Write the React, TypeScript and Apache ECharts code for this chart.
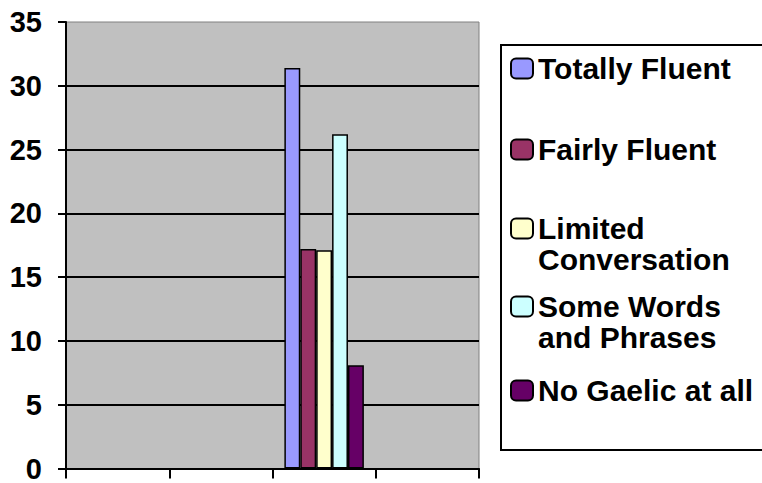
import React, { useEffect, useRef } from "react";
import * as echarts from "echarts";

const categories = ["Group 1", "Group 2", "Group 3", "Group 4"];
const seriesNames = [
  "Totally Fluent",
  "Fairly Fluent",
  "Limited Conversation",
  "Some Words and Phrases",
  "No Gaelic at all",
];
const legendLabels = [
  "Totally Fluent",
  "Fairly Fluent",
  "Limited\nConversation",
  "Some Words\nand Phrases",
  "No Gaelic at all",
];
const seriesValues: (number | null)[][] = [
  [null, null, 31.4, null],
  [null, null, 17.2, null],
  [null, null, 17.1, null],
  [null, null, 26.2, null],
  [null, null, 8.1, null],
];
const seriesColors = ["#9999FF", "#993366", "#FFFFCC", "#CCFFFF", "#660066"];
const yTicks = { min: 0, max: 35, interval: 5 };

const legendIconCenters = [69, 150, 230, 308, 391];

export default function App() {
  const ref = useRef<HTMLDivElement>(null);
  useEffect(() => {
    if (!ref.current) return;
    const chart = echarts.init(ref.current, null, { renderer: "svg" });
    const font = "Arial";
    const legends = seriesNames.map((name, i) => {
      const twoLine = legendLabels[i].includes("\n");
      return {
        orient: "vertical",
        left: 510,
        top: twoLine ? legendIconCenters[i] - 48 : legendIconCenters[i] - 16,
        padding: 0,
        itemWidth: 22,
        itemHeight: 20,
        selectedMode: false,
        data: [name],
        formatter: (n: string) => {
          const lbl = legendLabels[seriesNames.indexOf(n)];
          return lbl.includes("\n") ? "\n" + lbl : lbl;
        },
        textStyle: {
          fontFamily: font,
          fontWeight: "bold",
          fontSize: 30,
          lineHeight: 31,
          color: "#000",
        },
      };
    });
    chart.setOption({
      animation: false,
      backgroundColor: "#fff",
      grid: {
        left: 66,
        right: 283,
        top: 22,
        bottom: 10,
        show: true,
        backgroundColor: "#C0C0C0",
        borderColor: "#808080",
        borderWidth: 1,
      },
      legend: legends,
      graphic: [
        {
          type: "rect",
          shape: { x: 501, y: 45, width: 290, height: 405 },
          style: { fill: "none", stroke: "#000", lineWidth: 2 },
          z: 1,
        },
      ],
      xAxis: {
        type: "category",
        data: categories,
        axisLabel: { show: false },
        axisLine: { show: true, lineStyle: { color: "#000", width: 2 } },
        axisTick: { show: true, length: 10, lineStyle: { color: "#000", width: 2 } },
        splitLine: { show: false },
      },
      yAxis: {
        type: "value",
        min: yTicks.min,
        max: yTicks.max,
        interval: yTicks.interval,
        axisLine: { show: true, lineStyle: { color: "#000", width: 2 } },
        axisTick: { show: true, length: 8, lineStyle: { color: "#000", width: 2 } },
        axisLabel: {
          margin: 24,
          fontFamily: font,
          fontWeight: "bold",
          fontSize: 29,
          color: "#000",
        },
        splitLine: { show: true, showMaxLine: false, lineStyle: { color: "#000", width: 2 } },
      },
      series: seriesNames.map((name, i) => ({
        name,
        type: "bar",
        data: seriesValues[i],
        barGap: "0%",
        barCategoryGap: "23%",
        itemStyle: { color: seriesColors[i], borderColor: "#000", borderWidth: 1.5 },
      })),
    });
    return () => chart.dispose();
  }, []);
  return (
    <div
      ref={ref}
      style={{ position: "fixed", left: 0, top: 0, width: 762, height: 483 }}
    />
  );
}
